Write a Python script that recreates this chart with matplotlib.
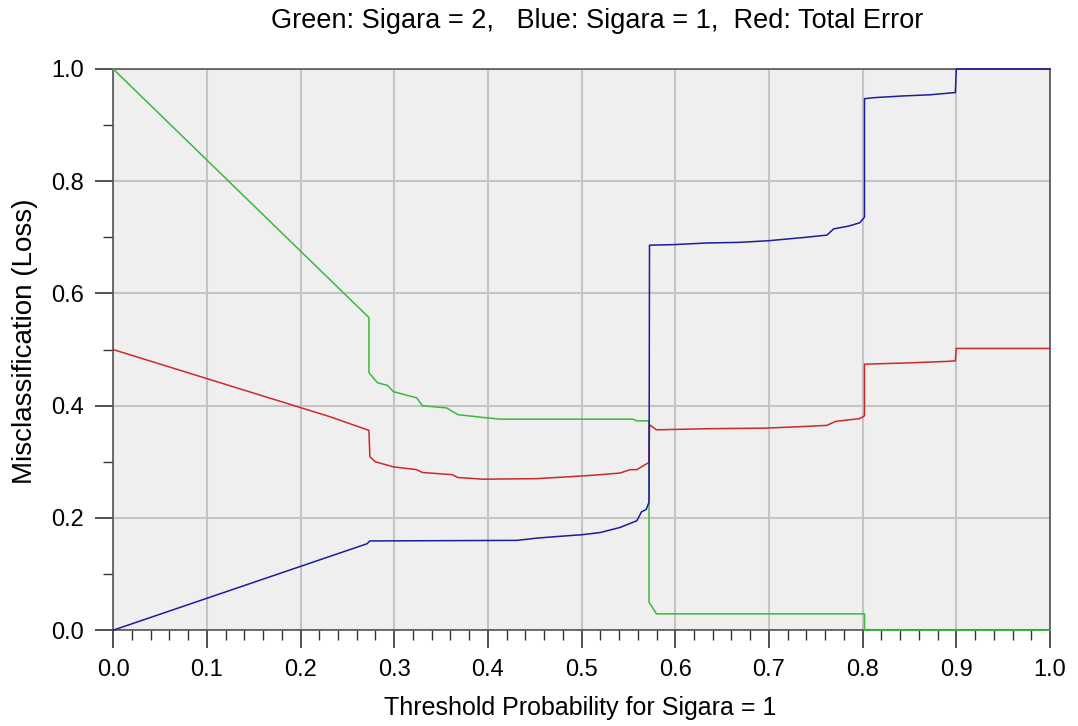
import matplotlib
matplotlib.use("Agg")
import matplotlib.pyplot as plt
from matplotlib.ticker import MultipleLocator

# values
green_x = [0.0, 0.273, 0.273, 0.282, 0.293, 0.299, 0.324, 0.330, 0.356, 0.368, 0.395, 0.413,
           0.555, 0.559, 0.572, 0.572, 0.580, 0.802, 0.802, 1.0]
green_y = [1.0, 0.557, 0.459, 0.441, 0.436, 0.425, 0.414, 0.400, 0.396, 0.384, 0.379, 0.376,
           0.376, 0.373, 0.373, 0.050, 0.029, 0.029, 0.0, 0.0]

blue_x = [0.0, 0.271, 0.274, 0.431, 0.452, 0.475, 0.50, 0.52, 0.541, 0.559, 0.564, 0.569, 0.572,
          0.5725, 0.598, 0.635, 0.668, 0.70, 0.739, 0.762, 0.769, 0.785, 0.797, 0.802, 0.802,
          0.813, 0.844, 0.872, 0.899, 0.900, 1.0]
blue_y = [0.0, 0.154, 0.159, 0.160, 0.164, 0.167, 0.170, 0.174, 0.183, 0.195, 0.211, 0.215, 0.228,
          0.686, 0.687, 0.690, 0.691, 0.694, 0.700, 0.704, 0.715, 0.720, 0.726, 0.736, 0.947,
          0.949, 0.952, 0.954, 0.958, 1.0, 1.0]

red_x = [0.0, 0.232, 0.273, 0.274, 0.280, 0.299, 0.324, 0.330, 0.362, 0.368, 0.395, 0.452, 0.493,
         0.52, 0.541, 0.552, 0.559, 0.572, 0.5725, 0.580, 0.635, 0.696, 0.739, 0.762, 0.771,
         0.797, 0.802, 0.802, 0.845, 0.891, 0.899, 0.900, 1.0]
red_y = [0.5, 0.380, 0.356, 0.309, 0.300, 0.291, 0.286, 0.281, 0.277, 0.272, 0.269, 0.270, 0.274,
         0.277, 0.280, 0.286, 0.286, 0.299, 0.366, 0.357, 0.359, 0.360, 0.363, 0.365, 0.372,
         0.377, 0.382, 0.474, 0.476, 0.479, 0.480, 0.502, 0.502]

title = "Green: Sigara = 2,   Blue: Sigara = 1,  Red: Total Error"
x_label = "Threshold Probability for Sigara = 1"
y_label = "Misclassification (Loss)"

plt.rcParams["font.family"] = ["Liberation Sans", "DejaVu Sans"]

fig = plt.figure(figsize=(10.78, 7.26), dpi=100)
ax = fig.add_axes([0.105, 0.132, 0.869, 0.773])
ax.set_facecolor("#efefef")

ax.plot(green_x, green_y, color="#3cb83c", lw=1.1, clip_on=False, zorder=3)
ax.plot(red_x, red_y, color="#cc2a2a", lw=1.1, clip_on=False, zorder=3)
ax.plot(blue_x, blue_y, color="#1c1c9c", lw=1.1, clip_on=False, zorder=4)

ax.set_xlim(0, 1)
ax.set_ylim(0, 1)
ax.xaxis.set_major_locator(MultipleLocator(0.1))
ax.xaxis.set_minor_locator(MultipleLocator(0.02))
ax.yaxis.set_major_locator(MultipleLocator(0.2))
ax.yaxis.set_minor_locator(MultipleLocator(0.1))
ax.xaxis.set_major_formatter(plt.FormatStrFormatter("%.1f"))
ax.yaxis.set_major_formatter(plt.FormatStrFormatter("%.1f"))

ax.grid(True, which="major", color="#c4c4c4", lw=1.5)
ax.set_axisbelow(True)
ax.tick_params(which="major", direction="out", length=13, width=1.2, colors="#333333",
               labelsize=17, labelcolor="black", pad=8)
ax.tick_params(which="minor", direction="out", length=7, width=1.0, colors="#333333")
for s in ax.spines.values():
    s.set_color("#555555")
    s.set_linewidth(1.2)

# titles placed in figure coordinates to match the reference
fig.text(0.554, 1 - 28 / 726, title, fontsize=19.5, ha="center", va="baseline")
fig.text(0.538, 1 - 715 / 726, x_label, fontsize=18, ha="center", va="baseline")
fig.text(25 / 1078, 1 - 341 / 726, y_label, fontsize=20, rotation=90, ha="center", va="center")

fig.savefig("out.png", dpi=100)
